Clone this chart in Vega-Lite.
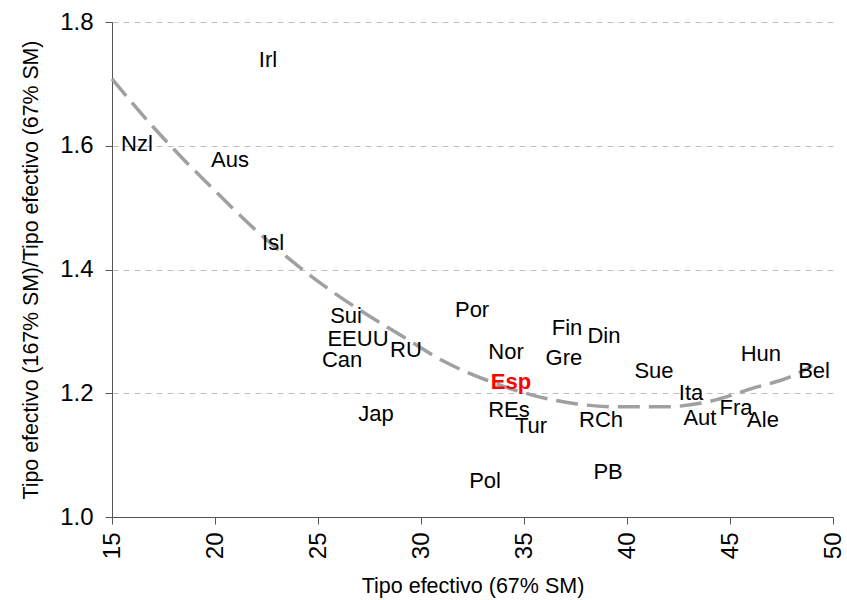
{
  "$schema": "https://vega.github.io/schema/vega-lite/v6.json",
  "width": 721,
  "height": 495,
  "autosize": "none",
  "padding": {"left": 112, "top": 22, "right": 14, "bottom": 83},
  "background": "white",
  "config": {"view": {"stroke": null}, "font": "Liberation Sans"},
  "datasets": {
    "paises": [
      {"pais": "Irl", "x": 22.57, "y": 1.739},
      {"pais": "Nzl", "x": 16.21, "y": 1.603},
      {"pais": "Aus", "x": 20.73, "y": 1.577},
      {"pais": "Isl", "x": 22.82, "y": 1.443},
      {"pais": "Sui", "x": 26.36, "y": 1.325},
      {"pais": "EEUU", "x": 26.94, "y": 1.288},
      {"pais": "Can", "x": 26.17, "y": 1.254},
      {"pais": "RU", "x": 29.27, "y": 1.27},
      {"pais": "Jap", "x": 27.82, "y": 1.166},
      {"pais": "Por", "x": 32.48, "y": 1.335},
      {"pais": "Nor", "x": 34.13, "y": 1.267},
      {"pais": "REs", "x": 34.27, "y": 1.173},
      {"pais": "Tur", "x": 35.34, "y": 1.147},
      {"pais": "Pol", "x": 33.11, "y": 1.058},
      {"pais": "Fin", "x": 37.09, "y": 1.305},
      {"pais": "Din", "x": 38.88, "y": 1.293},
      {"pais": "Gre", "x": 36.94, "y": 1.257},
      {"pais": "RCh", "x": 38.74, "y": 1.157},
      {"pais": "PB", "x": 39.08, "y": 1.073},
      {"pais": "Sue", "x": 41.31, "y": 1.236},
      {"pais": "Ita", "x": 43.11, "y": 1.2},
      {"pais": "Aut", "x": 43.54, "y": 1.16},
      {"pais": "Fra", "x": 45.29, "y": 1.176},
      {"pais": "Ale", "x": 46.6, "y": 1.157},
      {"pais": "Hun", "x": 46.5, "y": 1.263},
      {"pais": "Bel", "x": 49.08, "y": 1.236}
    ],
    "espana": [
      {"pais": "Esp", "x": 34.37, "y": 1.218}
    ],
    "tendencia": [
      {"x": 15.0, "y": 1.708},
      {"x": 16.9, "y": 1.634},
      {"x": 18.5, "y": 1.577},
      {"x": 20.1, "y": 1.524},
      {"x": 21.8, "y": 1.469},
      {"x": 23.5, "y": 1.42},
      {"x": 25.2, "y": 1.376},
      {"x": 27.0, "y": 1.335},
      {"x": 29.0, "y": 1.294},
      {"x": 31.2, "y": 1.25},
      {"x": 33.2, "y": 1.221},
      {"x": 35.4, "y": 1.197},
      {"x": 37.5, "y": 1.183},
      {"x": 39.7, "y": 1.178},
      {"x": 41.8, "y": 1.178},
      {"x": 43.9, "y": 1.186},
      {"x": 46.0, "y": 1.207},
      {"x": 48.1, "y": 1.229},
      {"x": 49.0, "y": 1.245}
    ]
  },
  "layer": [
    {
      "data": {"name": "tendencia"},
      "mark": {"type": "line", "color": "#a0a0a0", "strokeWidth": 3.5, "strokeDash": [22, 9], "interpolate": "monotone"},
      "encoding": {
        "x": {
          "field": "x", "type": "quantitative",
          "scale": {"domain": [15, 50], "nice": false, "zero": false},
          "axis": {
            "title": "Tipo efectivo (67% SM)", "titleFontSize": 21.5, "titleFontWeight": "normal", "titleColor": "black", "titlePadding": 17,
            "values": [15, 20, 25, 30, 35, 40, 45, 50],
            "labelAngle": -90, "labelFontSize": 24, "labelColor": "black", "labelAlign": "right", "labelBaseline": "middle", "labelPadding": 8,
            "grid": false, "domainColor": "#555555", "tickColor": "#555555", "tickSize": 7
          }
        },
        "y": {
          "field": "y", "type": "quantitative",
          "scale": {"domain": [1.0, 1.8], "nice": false, "zero": false},
          "axis": {
            "title": "Tipo efectivo (167% SM)/Tipo efectivo (67% SM)", "titleFontSize": 21.3, "titleFontWeight": "normal", "titleColor": "black", "titlePadding": 18,
            "values": [1.0, 1.2, 1.4, 1.6, 1.8], "format": ".1f",
            "labelFontSize": 24, "labelColor": "black", "labelPadding": 12,
            "grid": true, "gridColor": "#c0c0c0", "gridDash": [6, 5], "gridWidth": 1,
            "domainColor": "#555555", "tickColor": "#555555", "tickSize": 7
          }
        }
      }
    },
    {
      "data": {"name": "paises"},
      "mark": {"type": "text", "fontSize": 22, "align": "center", "baseline": "middle", "color": "black"},
      "encoding": {
        "x": {"field": "x", "type": "quantitative"},
        "y": {"field": "y", "type": "quantitative"},
        "text": {"field": "pais"}
      }
    },
    {
      "data": {"name": "espana"},
      "mark": {"type": "text", "fontSize": 22, "fontWeight": "bold", "align": "center", "baseline": "middle", "color": "red"},
      "encoding": {
        "x": {"field": "x", "type": "quantitative"},
        "y": {"field": "y", "type": "quantitative"},
        "text": {"field": "pais"}
      }
    }
  ]
}
